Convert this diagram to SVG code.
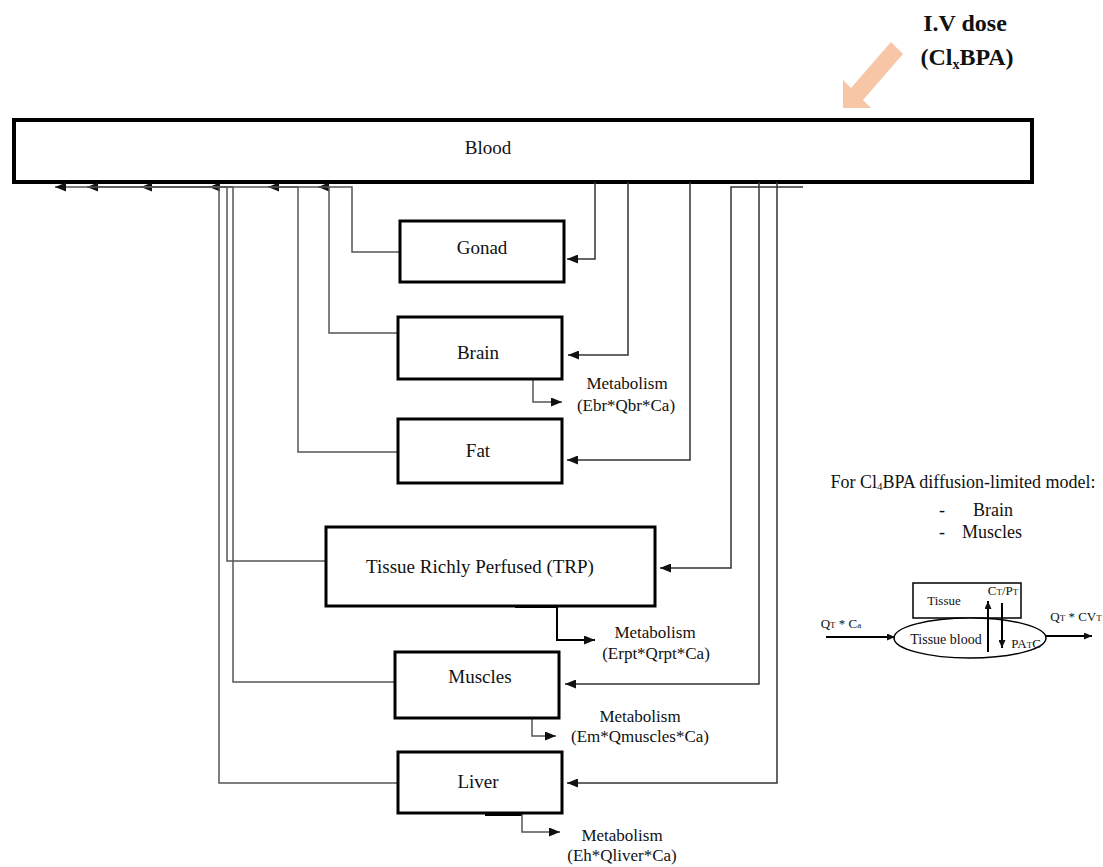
<svg xmlns="http://www.w3.org/2000/svg" width="1103" height="867" viewBox="0 0 1103 867" font-family="'Liberation Serif', 'Times New Roman', serif">
<defs>
<marker id="ah" markerWidth="11" markerHeight="9" refX="11" refY="4.5" orient="auto" markerUnits="userSpaceOnUse"><path d="M0,0 L11,4.5 L0,9 z" fill="#111"/></marker>
<marker id="ahs" markerWidth="8" markerHeight="7" refX="8" refY="3.5" orient="auto" markerUnits="userSpaceOnUse"><path d="M0,0 L8,3.5 L0,7 z" fill="#111"/></marker>
<style>
text{font-family:"Liberation Serif","Times New Roman",serif;fill:#111}
.box{fill:#fff;stroke:#000;stroke-width:3}
.lbl{font-size:19px;text-anchor:middle}
.met{font-size:17px;text-anchor:middle}
.out{fill:none;stroke:#555;stroke-width:1.5}
.in{fill:none;stroke:#333;stroke-width:1.5}
.small{font-size:13px}
</style>
</defs>
<g id="dose">
<polygon points="891,42 903,54 863,100 871,108 843,108 843,80 851,88" fill="#f6c6a6"/>
<text x="965" y="31" font-size="24" font-weight="bold" text-anchor="middle">I.V dose</text>
<text x="967" y="65" font-size="24" font-weight="bold" text-anchor="middle">(Cl<tspan font-size="14" dy="4">x</tspan><tspan dy="-4">BPA)</tspan></text>
</g>
<g id="blood">
<rect x="14" y="120" width="1018" height="62" fill="#fff" stroke="#000" stroke-width="4"/>
<text class="lbl" x="488" y="154">Blood</text>
</g>
<g id="connectors">
<path class="out" d="M400,252 H352 V187 H318" marker-end="url(#ah)"/>
<path class="out" d="M398,333 H329 V187 H268" marker-end="url(#ah)"/>
<path class="out" d="M398,452 H298 V187 H209" marker-end="url(#ah)"/>
<path class="out" d="M326,561 H227 V187 H141" marker-end="url(#ah)"/>
<path class="out" d="M395,682 H233 V187 H87" marker-end="url(#ah)"/>
<path class="out" d="M398,783 H219 V187 H55" marker-end="url(#ah)"/>
<path class="in" d="M595,182 V259 H567" marker-end="url(#ah)"/>
<path class="in" d="M628,182 V355 H568" marker-end="url(#ah)"/>
<path class="in" d="M690,182 V460 H567" marker-end="url(#ah)"/>
<path class="in" d="M803,187 H731 V568 H660" marker-end="url(#ah)"/>
<path class="in" d="M759,182 V684 H565" marker-end="url(#ah)"/>
<path class="in" d="M777,182 V783 H567" marker-end="url(#ah)"/>
<path class="out" d="M533,379 V402 H562" marker-end="url(#ah)"/>
<path d="M515,606 H557" stroke="#000" stroke-width="4"/>
<path fill="none" stroke="#000" stroke-width="2" d="M557,606 V640 H595" marker-end="url(#ah)"/>
<path class="out" d="M532,718 V736 H556" marker-end="url(#ah)"/>
<path d="M485,814 H522" stroke="#000" stroke-width="4"/>
<path class="out" d="M522,814 V832 H560" marker-end="url(#ah)"/>
</g>
<g id="gonad"><rect class="box" x="400" y="221" width="164" height="61"/><text class="lbl" x="482" y="254">Gonad</text></g>
<g id="brain"><rect class="box" x="398" y="317" width="164" height="62"/><text class="lbl" x="478" y="359">Brain</text>
<text class="met" x="627" y="389">Metabolism</text><text class="met" x="626" y="411">(Ebr*Qbr*Ca)</text></g>
<g id="fat"><rect class="box" x="398" y="419" width="164" height="64"/><text class="lbl" x="478" y="457">Fat</text></g>
<g id="trp"><rect class="box" x="326" y="527" width="329" height="79"/><text class="lbl" x="480" y="573">Tissue Richly Perfused (TRP)</text>
<text class="met" x="655" y="638">Metabolism</text><text class="met" x="656" y="659">(Erpt*Qrpt*Ca)</text></g>
<g id="muscles"><rect class="box" x="395" y="652" width="164" height="66"/><text class="lbl" x="480" y="683">Muscles</text>
<text class="met" x="640" y="722">Metabolism</text><text class="met" x="640" y="742">(Em*Qmuscles*Ca)</text></g>
<g id="liver"><rect class="box" x="398" y="752" width="164" height="61"/><text class="lbl" x="478" y="788">Liver</text>
<text class="met" x="622" y="841">Metabolism</text><text class="met" x="622" y="861">(Eh*Qliver*Ca)</text></g>
<g id="inset">
<text x="963" y="488" font-size="18" text-anchor="middle">For Cl<tspan font-size="11" dy="2">4</tspan><tspan dy="-2">BPA diffusion-limited model:</tspan></text>
<text x="942" y="516" font-size="18" text-anchor="middle">-</text>
<text x="993" y="516" font-size="18" text-anchor="middle">Brain</text>
<text x="942" y="538" font-size="18" text-anchor="middle">-</text>
<text x="992" y="538" font-size="18" text-anchor="middle">Muscles</text>
<rect x="913" y="583" width="108" height="35" fill="#fff" stroke="#000" stroke-width="1.5"/>
<ellipse cx="970" cy="638" rx="76" ry="20" fill="#fff" stroke="#000" stroke-width="1.5"/>
<text x="944" y="605" font-size="13" text-anchor="middle">Tissue</text>
<text class="small" x="1003" y="595" text-anchor="middle">C<tspan font-size="9">T</tspan>/P<tspan font-size="9">T</tspan></text>
<text x="946" y="644" font-size="14" text-anchor="middle">Tissue blood</text>
<text class="small" x="1026" y="648" text-anchor="middle">PA<tspan font-size="9">T</tspan>C</text>
<path d="M988,652 V601" stroke="#000" stroke-width="2" marker-end="url(#ahs)"/>
<path d="M1002,603 V648" stroke="#000" stroke-width="2" marker-end="url(#ahs)"/>
<path d="M826,637 H895" stroke="#000" stroke-width="2" marker-end="url(#ahs)"/>
<path d="M1046,636 H1092" stroke="#000" stroke-width="2" marker-end="url(#ahs)"/>
<text class="small" x="841" y="628" text-anchor="middle">Q<tspan font-size="9">T</tspan> * C<tspan font-size="9">a</tspan></text>
<text class="small" x="1076" y="621" text-anchor="middle">Q<tspan font-size="9">T</tspan> * CV<tspan font-size="9">T</tspan></text>
</g>
</svg>
